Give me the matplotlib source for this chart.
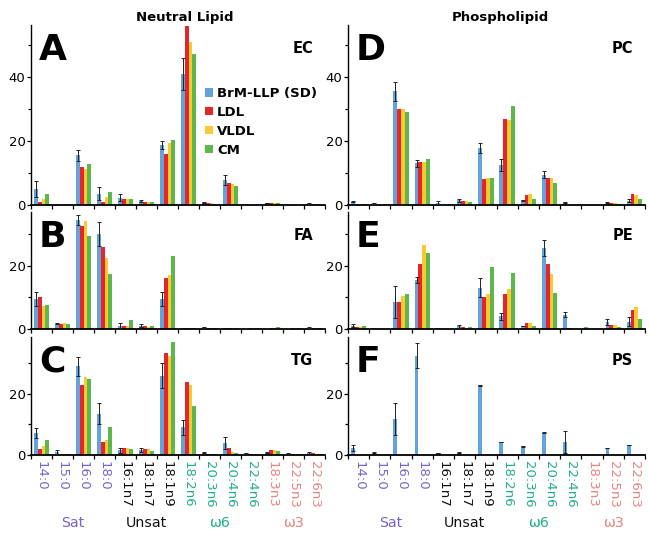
import numpy as np
import matplotlib
matplotlib.use("Agg")
import matplotlib.pyplot as plt
from matplotlib.patches import Patch
from matplotlib.transforms import blended_transform_factory

plt.rcParams['font.family'] = ['DejaVu Sans']

categories = ['14:0', '15:0', '16:0', '18:0', '16:1n7', '18:1n7', '18:1n9',
              '18:2n6', '20:3n6', '20:4n6', '22:4n6', '18:3n3', '22:5n3', '22:6n3']
cat_groups = ['Sat'] * 4 + ['Unsat'] * 3 + ['w6'] * 4 + ['w3'] * 3
series_names = ['BrM-LLP (SD)', 'LDL', 'VLDL', 'CM']

# Panel A: EC
ec_brm = [5.0, 0.2, 15.5, 3.5, 2.3, 1.3, 18.7, 41.0, 0.8, 7.8, 0.1, 0.6, 0.1, 0.5]
ec_brm_sd = [2.5, 0.0, 1.8, 2.0, 1.2, 0.4, 1.3, 5.0, 0.1, 1.5, 0.0, 0.1, 0.0, 0.1]
ec_ldl = [0.8, 0.1, 11.8, 0.8, 2.0, 1.0, 15.9, 56.0, 0.5, 7.0, 0.1, 0.6, 0.1, 0.3]
ec_vldl = [2.0, 0.1, 11.3, 2.5, 2.0, 1.0, 19.3, 51.0, 0.5, 6.5, 0.1, 0.6, 0.1, 0.3]
ec_cm = [3.3, 0.1, 12.9, 4.0, 2.0, 1.0, 20.4, 47.2, 0.3, 6.0, 0.1, 0.5, 0.1, 0.2]

# Panel B: FA
fa_brm = [9.5, 1.7, 34.5, 30.0, 1.0, 1.0, 9.5, 0.4, 0.5, 0.3, 0.3, 0.3, 0.3, 0.4]
fa_brm_sd = [2.3, 0.2, 1.5, 3.8, 1.0, 0.5, 2.3, 0.0, 0.2, 0.0, 0.1, 0.1, 0.1, 0.1]
fa_ldl = [10.0, 1.5, 32.5, 26.0, 1.0, 1.0, 16.0, 0.4, 0.3, 0.3, 0.2, 0.3, 0.3, 0.3]
fa_vldl = [7.2, 1.8, 34.0, 22.5, 1.0, 0.7, 17.0, 0.4, 0.3, 0.3, 0.2, 0.3, 0.3, 0.3]
fa_cm = [7.5, 1.7, 29.5, 17.5, 3.0, 0.8, 23.0, 0.4, 0.3, 0.3, 0.2, 0.6, 0.3, 0.3]

# Panel C: TG
tg_brm = [7.2, 1.0, 29.0, 13.5, 1.5, 1.6, 26.0, 9.0, 0.8, 4.0, 0.5, 0.8, 0.4, 0.5]
tg_brm_sd = [1.5, 0.6, 3.0, 3.5, 0.8, 0.7, 4.0, 2.5, 0.2, 2.0, 0.3, 0.2, 0.1, 0.4]
tg_ldl = [2.0, 0.3, 23.0, 4.3, 2.2, 1.8, 33.5, 24.0, 0.4, 2.3, 0.2, 1.6, 0.4, 0.6]
tg_vldl = [3.0, 0.3, 25.5, 4.8, 2.2, 1.8, 32.5, 23.0, 0.3, 1.0, 0.2, 1.5, 0.3, 0.4]
tg_cm = [5.0, 0.2, 25.0, 9.3, 1.8, 1.3, 37.0, 16.0, 0.2, 0.5, 0.2, 1.4, 0.2, 0.2]

# Panel D: PC
pc_brm = [1.0, 0.5, 35.5, 13.0, 0.7, 1.5, 17.8, 12.5, 1.5, 9.5, 0.8, 0.1, 0.7, 1.3]
pc_brm_sd = [0.2, 0.1, 3.0, 1.0, 0.5, 0.5, 1.7, 2.0, 0.2, 1.0, 0.1, 0.0, 0.1, 0.5]
pc_ldl = [0.3, 0.0, 30.0, 13.5, 0.1, 1.3, 8.0, 27.0, 3.0, 8.5, 0.1, 0.1, 0.6, 3.3]
pc_vldl = [0.3, 0.0, 30.0, 13.5, 0.1, 1.2, 8.5, 26.5, 3.5, 8.5, 0.1, 0.1, 0.5, 3.2]
pc_cm = [0.2, 0.0, 29.0, 14.5, 0.1, 0.8, 8.5, 30.8, 2.0, 7.0, 0.1, 0.1, 0.3, 2.0]

# Panel E: PE
pe_brm = [1.0, 0.2, 8.5, 15.5, 0.3, 0.8, 13.0, 4.0, 1.0, 25.5, 4.5, 0.5, 2.3, 2.3]
pe_brm_sd = [0.5, 0.0, 5.0, 1.0, 0.0, 0.4, 3.0, 1.0, 0.1, 2.5, 0.8, 0.0, 0.9, 1.4]
pe_ldl = [0.6, 0.1, 8.5, 20.5, 0.1, 0.5, 10.0, 11.0, 2.0, 20.5, 0.3, 0.0, 1.3, 6.0]
pe_vldl = [0.5, 0.1, 10.5, 26.5, 0.1, 0.3, 11.0, 12.5, 2.0, 17.5, 0.2, 0.0, 1.2, 7.0]
pe_cm = [1.0, 0.1, 11.0, 24.0, 0.1, 0.5, 19.5, 17.8, 1.0, 11.5, 0.1, 0.0, 0.5, 3.3]

# Panel F: PS (BrM-LLP only)
ps_brm = [2.3, 0.8, 11.8, 32.5, 0.7, 0.8, 22.8, 4.2, 2.8, 7.3, 4.2, 0.2, 2.3, 3.3]
ps_brm_sd = [1.0, 0.1, 5.2, 4.0, 0.1, 0.1, 0.2, 0.1, 0.2, 0.1, 3.6, 0.0, 0.1, 0.1]

bar_colors = ['#64a2dc', '#e4262c', '#fdc932', '#5cb84a']
group_colors = {'Sat': '#7a62cc', 'Unsat': '#111111', 'w6': '#1fae8e', 'w3': '#e8837f'}
group_text = {'Sat': 'Sat', 'Unsat': 'Unsat', 'w6': 'ω6', 'w3': 'ω3'}

W, H = 649, 534
fig = plt.figure(figsize=(W / 100, H / 100), dpi=100)


def px_rect(x0, top, x1, bottom):
    return [x0 / W, 1 - bottom / H, (x1 - x0) / W, (bottom - top) / H]


panels = [
    dict(rect=px_rect(31, 25, 325, 205), ymax=56.2, letter='A', sub='EC',
         data=[ec_brm, ec_ldl, ec_vldl, ec_cm], sd=ec_brm_sd, bottom=False),
    dict(rect=px_rect(31, 212, 325, 329), ymax=37.0, letter='B', sub='FA',
         data=[fa_brm, fa_ldl, fa_vldl, fa_cm], sd=fa_brm_sd, bottom=False),
    dict(rect=px_rect(31, 337, 325, 455), ymax=38.6, letter='C', sub='TG',
         data=[tg_brm, tg_ldl, tg_vldl, tg_cm], sd=tg_brm_sd, bottom=True),
    dict(rect=px_rect(348, 25, 645, 205), ymax=56.2, letter='D', sub='PC',
         data=[pc_brm, pc_ldl, pc_vldl, pc_cm], sd=pc_brm_sd, bottom=False),
    dict(rect=px_rect(348, 212, 645, 329), ymax=37.0, letter='E', sub='PE',
         data=[pe_brm, pe_ldl, pe_vldl, pe_cm], sd=pe_brm_sd, bottom=False),
    dict(rect=px_rect(348, 337, 645, 455), ymax=38.6, letter='F', sub='PS',
         data=[ps_brm], sd=ps_brm_sd, bottom=True),
]

x = np.arange(len(categories))
bw = 0.18
offsets = [-1.5 * bw, -0.5 * bw, 0.5 * bw, 1.5 * bw]
axes = []
for p in panels:
    ax = fig.add_axes(p['rect'])
    axes.append(ax)
    for i, vals in enumerate(p['data']):
        ax.bar(x + offsets[i], vals, bw, color=bar_colors[i], linewidth=0, zorder=2)
    sd = np.array(p['sd'])
    mask = sd > 0
    ax.errorbar((x + offsets[0])[mask], np.array(p['data'][0])[mask], yerr=sd[mask],
                fmt='none', ecolor='#222222', elinewidth=0.7, capsize=1.6,
                capthick=0.7, zorder=3)
    ax.set_xlim(-0.5, len(categories) - 0.5)
    ax.set_ylim(0, p['ymax'])
    for s in ['top', 'right']:
        ax.spines[s].set_visible(False)
    ax.spines['left'].set_linewidth(1.0)
    ax.spines['bottom'].set_linewidth(1.3)
    ax.set_yticks([0, 20, 40] if p['ymax'] > 45 else [0, 20])
    ax.set_yticks([10, 30, 50] if p['ymax'] > 45 else [10, 30], minor=True)
    ax.tick_params(axis='y', which='major', direction='out', length=3, width=0.9,
                   labelsize=9.5, pad=1)
    ax.tick_params(axis='y', which='minor', direction='out', length=2.5, width=0.9)
    ax.set_xticks(x)
    ax.set_xticks(np.arange(-0.5, len(categories), 1), minor=True)
    ax.tick_params(axis='x', which='major', length=0, pad=4)
    ax.tick_params(axis='x', which='minor', direction='out', length=3, width=0.9)
    if p['bottom']:
        ax.set_xticklabels(categories, rotation=-90, fontsize=9.5)
        for lbl, g in zip(ax.get_xticklabels(), cat_groups):
            lbl.set_color(group_colors[g])
        tr = blended_transform_factory(ax.transData, fig.transFigure)
        for g in ['Sat', 'Unsat', 'w6', 'w3']:
            idx = [k for k, gg in enumerate(cat_groups) if gg == g]
            ax.text(np.mean(idx), 1 - 527 / H, group_text[g], transform=tr,
                    ha='center', va='baseline', fontsize=10.2, color=group_colors[g])
    else:
        ax.set_xticklabels([])

    # panel letter and subtype
    l, b, w, h = p['rect']
    left_px = l * W
    top_px = (1 - (b + h)) * H
    fig.text((left_px + 8) / W, 1 - (top_px + 35) / H, p['letter'], fontsize=26,
             fontweight='bold', va='baseline', ha='left')
    right_px = (l + w) * W
    fig.text((right_px - 12) / W, 1 - (top_px + 28) / H, p['sub'], fontsize=10.5,
             fontweight='bold', va='baseline', ha='right')

fig.text(185 / W, 1 - 21 / H, 'Neutral Lipid', fontsize=9.5, fontweight='bold',
         ha='center', va='baseline')
fig.text(500 / W, 1 - 21 / H, 'Phospholipid', fontsize=9.5, fontweight='bold',
         ha='center', va='baseline')

handles = [Patch(facecolor=c, edgecolor='none') for c in bar_colors]
axes[0].legend(handles, series_names, loc='upper left',
               bbox_to_anchor=(205 / W, 1 - 87 / H), bbox_transform=fig.transFigure,
               frameon=False, prop={'weight': 'bold', 'size': 9.5},
               handlelength=0.6, handleheight=0.6, handletextpad=0.3,
               labelspacing=0.45, borderpad=0, borderaxespad=0)

fig.savefig('out.png', dpi=100)
